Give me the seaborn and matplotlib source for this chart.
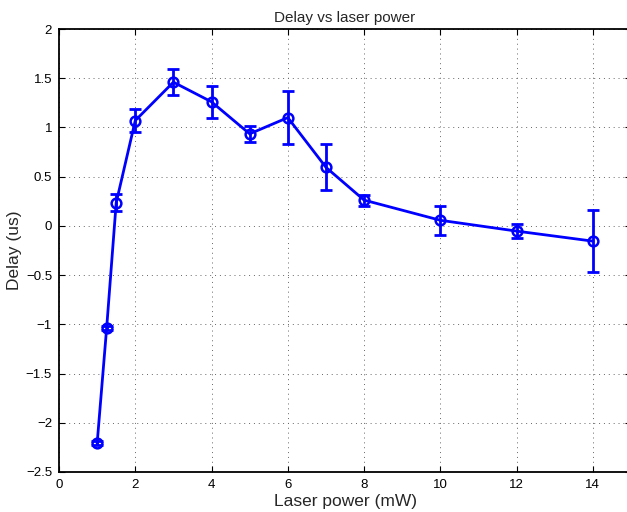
import numpy as np
import pandas as pd
import seaborn as sns
import matplotlib.pyplot as plt

power = [1, 1.25, 1.5, 2, 3, 4, 5, 6, 7, 8, 10, 12, 14]
delay = [-2.21, -1.035, 0.235, 1.07, 1.46, 1.26, 0.935, 1.10, 0.595, 0.262, 0.057, -0.053, -0.155]
err = [0.02, 0.02, 0.085, 0.117, 0.135, 0.163, 0.083, 0.27, 0.235, 0.055, 0.147, 0.075, 0.315]

df = pd.DataFrame({"power": power, "delay": delay, "err": err})

sns.set_theme(style="white")
plt.rcParams['font.family'] = ['Liberation Sans', 'DejaVu Sans']

fig = plt.figure(figsize=(6.27, 5.12), dpi=100)
ax = fig.add_axes([59/627, 40/512, 572/627, 443/512])

ax.errorbar(df["power"], df["delay"], yerr=df["err"], fmt="none",
            ecolor="#0000ff", elinewidth=2, capsize=4, capthick=2, zorder=3)
sns.lineplot(data=df, x="power", y="delay", ax=ax, color="#0000ff", linewidth=2,
             marker="o", markersize=7, markerfacecolor="none",
             markeredgecolor="#0000ff", markeredgewidth=1.8, zorder=4)

ax.set_xlim(0, 15)
ax.set_ylim(-2.5, 2)
ax.set_xticks(np.arange(0, 15, 2))
ax.set_yticks(np.arange(-2.5, 2.01, 0.5))
ax.set_yticklabels([f"{v:g}".replace("-", "\u2212") for v in np.arange(-2.5, 2.01, 0.5)])
ax.grid(True, linestyle=(0, (1, 4)), color="#666666", linewidth=0.7)
ax.tick_params(direction="in", length=4, width=0.8, labelsize=9.5, colors="black",
               top=True, right=True, bottom=True, left=True)
ax.tick_params(axis="x", pad=5)
ax.tick_params(axis="y", pad=5)
for s in ax.spines.values():
    s.set_color("black")
    s.set_linewidth(1.3)

ax.set_title("Delay vs laser power", fontsize=11, pad=5)
ax.set_xlabel("Laser power (mW)", fontsize=12.5, labelpad=2)
ax.set_ylabel("Delay (us)", fontsize=12.5, labelpad=3)

fig.savefig("out.png", dpi=100)
